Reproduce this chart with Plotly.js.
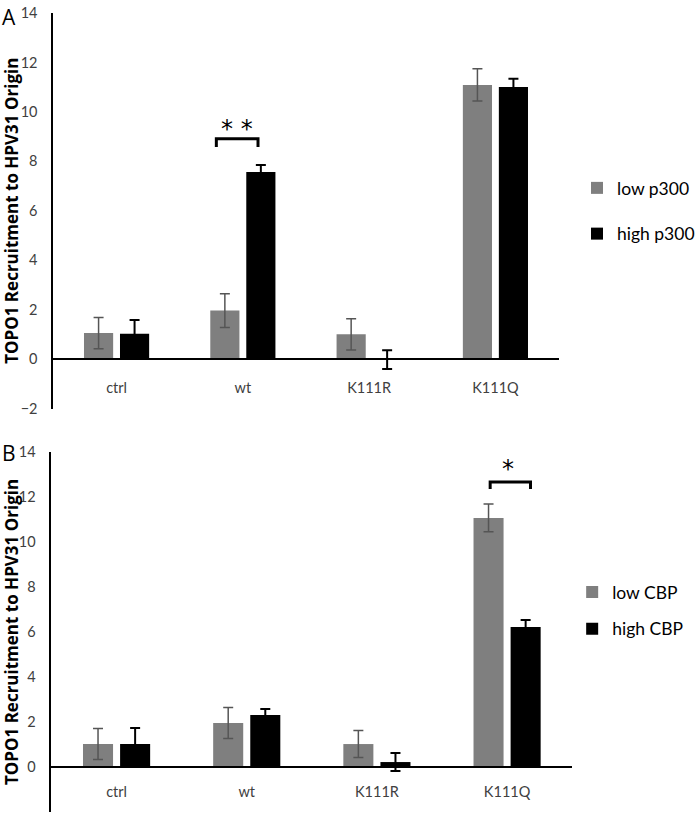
<!DOCTYPE html>
<html>
<head>
<meta charset="utf-8">
<script src="https://cdn.plot.ly/plotly-3.0.1.min.js"></script>
<style>
  html, body { margin: 0; padding: 0; background: #fff; }
  #chart { width: 700px; height: 819px; }
</style>
</head>
<body>
<div id="chart"></div>
<script>
// categories shared by both panels
const categories = ['ctrl', 'wt', 'K111R', 'K111Q'];

// Panel A: p300 titration
const lowP300 = [1.05, 1.96, 1.0, 11.09];
const lowP300Err = [0.63, 0.68, 0.63, 0.65];
const highP300 = [1.02, 7.57, -0.02, 11.01];
const highP300Err = [0.56, 0.28, 0.38, 0.33];

// Panel B: CBP titration
const lowCBP = [1.02, 1.96, 1.02, 11.07];
const lowCBPErr = [0.69, 0.69, 0.6, 0.62];
const highCBP = [1.02, 2.31, 0.22, 6.22];
const highCBPErr = [0.71, 0.27, 0.4, 0.31];

const yRange = [-2, 14];
const yTicks = [-2, 0, 2, 4, 6, 8, 10, 12, 14];

// significance brackets: [category, left offset, right offset, top, leg end, star offset, star y, label]
const bracketA = ['wt', -0.21, 0.12, 8.91, 8.58, -0.05, 9.55, '* *'];
const bracketB = ['K111Q', -0.13, 0.18, 12.67, 12.36, 0.01, 13.51, '*'];

const W = 700, H = 819;
const LOW = '#7f7f7f', HIGH = '#000000';
const tickFont = { family: 'Lato, sans-serif', size: 14.5, color: '#404040' };

// domains in paper fractions, from pixel boxes of the original figure
const px = (x) => x / W;
const py = (y) => 1 - y / H;
const domA = { x: [px(55), px(575)], y: [py(408.5), py(13)] };
const domB = { x: [px(53), px(589)], y: [py(812), py(452)] };

// where y = 0 falls in paper coords, so the category axis sits on the zero line
function zeroPos(dom) {
  const f = (0 - yRange[0]) / (yRange[1] - yRange[0]);
  return dom.y[0] + f * (dom.y[1] - dom.y[0]);
}

function barTrace(y, err, name, color, errColor, errThick, ax, legend, group) {
  return {
    type: 'bar',
    x: categories,
    y: y,
    name: name,
    xaxis: ax[0],
    yaxis: ax[1],
    legend: legend,
    legendgroup: group,
    marker: { color: color },
    error_y: { type: 'data', array: err, visible: true, color: errColor, thickness: errThick, width: 5 },
    hoverinfo: 'skip'
  };
}

function bracketShapes(b, xref, yref) {
  const c = categories.indexOf(b[0]);
  const x0 = c + b[1], x1 = c + b[2];
  return {
    type: 'path', xref: xref, yref: yref,
    path: `M${x0},${b[4]} L${x0},${b[3]} L${x1},${b[3]} L${x1},${b[4]}`,
    line: { color: '#000', width: 3 }
  };
}

function bracketLabel(b, xref, yref) {
  const c = categories.indexOf(b[0]);
  return {
    xref: xref, yref: yref, x: c + b[5], y: b[6],
    text: b[7], showarrow: false, yanchor: 'middle', yshift: -6,
    font: { family: 'DejaVu Sans, sans-serif', size: 24, color: '#000' }
  };
}

function xAxis(dom, standoff) {
  return {
    domain: dom.x,
    anchor: 'free',
    position: zeroPos(dom),
    type: 'category',
    showline: true, linecolor: '#000', linewidth: 1.5,
    showgrid: false, zeroline: false,
    ticks: 'outside', ticklen: standoff, tickcolor: 'rgba(0,0,0,0)',
    tickfont: tickFont,
    fixedrange: true
  };
}

function yAxis(dom, anchorAxis) {
  return {
    domain: dom.y,
    anchor: anchorAxis,
    range: yRange,
    tickvals: yTicks,
    showline: true, linecolor: '#000', linewidth: 2,
    showgrid: false, zeroline: false,
    ticks: 'outside', ticklen: 11, tickcolor: 'rgba(0,0,0,0)',
    tickfont: tickFont,
    title: {
      text: 'TOPO1 Recruitment to HPV31 Origin',
      font: { family: 'Open Sans, sans-serif', size: 17, color: '#000', weight: 'bold' },
      standoff: 4
    },
    fixedrange: true
  };
}

const legendFont = { family: 'Lato, sans-serif', size: 17.5, color: '#000' };

const data = [
  barTrace(lowP300, lowP300Err, 'low p300', LOW, '#555555', 1.5, ['x', 'y'], 'legend', 'a1'),
  barTrace(highP300, highP300Err, 'high p300', HIGH, '#000000', 2, ['x', 'y'], 'legend', 'a2'),
  barTrace(lowCBP, lowCBPErr, 'low CBP', LOW, '#555555', 1.5, ['x2', 'y2'], 'legend2', 'b1'),
  barTrace(highCBP, highCBPErr, 'high CBP', HIGH, '#000000', 2, ['x2', 'y2'], 'legend2', 'b2')
];

const layout = {
  width: W, height: H,
  margin: { l: 0, r: 0, t: 0, b: 0 },
  paper_bgcolor: '#fff', plot_bgcolor: '#fff',
  barmode: 'group', bargap: 0.43, bargroupgap: 0.19,
  xaxis: xAxis(domA, 16),
  yaxis: yAxis(domA, 'x'),
  xaxis2: xAxis(domB, 12),
  yaxis2: yAxis(domB, 'x2'),
  legend: {
    x: px(594), y: py(170), xanchor: 'left', yanchor: 'top',
    font: legendFont, tracegroupgap: 20, bgcolor: 'rgba(0,0,0,0)'
  },
  legend2: {
    x: px(589), y: py(574), xanchor: 'left', yanchor: 'top',
    font: legendFont, tracegroupgap: 11, bgcolor: 'rgba(0,0,0,0)'
  },
  shapes: [bracketShapes(bracketA, 'x', 'y'), bracketShapes(bracketB, 'x2', 'y2')],
  annotations: [
    bracketLabel(bracketA, 'x', 'y'),
    bracketLabel(bracketB, 'x2', 'y2'),
    { xref: 'paper', yref: 'paper', x: 0, y: py(1), xanchor: 'left', yanchor: 'top',
      text: 'A', showarrow: false, font: { family: 'Open Sans, sans-serif', size: 21, color: '#000' } },
    { xref: 'paper', yref: 'paper', x: 0, y: py(437), xanchor: 'left', yanchor: 'top',
      text: 'B', showarrow: false, font: { family: 'Open Sans, sans-serif', size: 21, color: '#000' } }
  ],
  showlegend: true
};

Plotly.newPlot('chart', data, layout, { displayModeBar: false, responsive: false });
</script>
</body>
</html>
